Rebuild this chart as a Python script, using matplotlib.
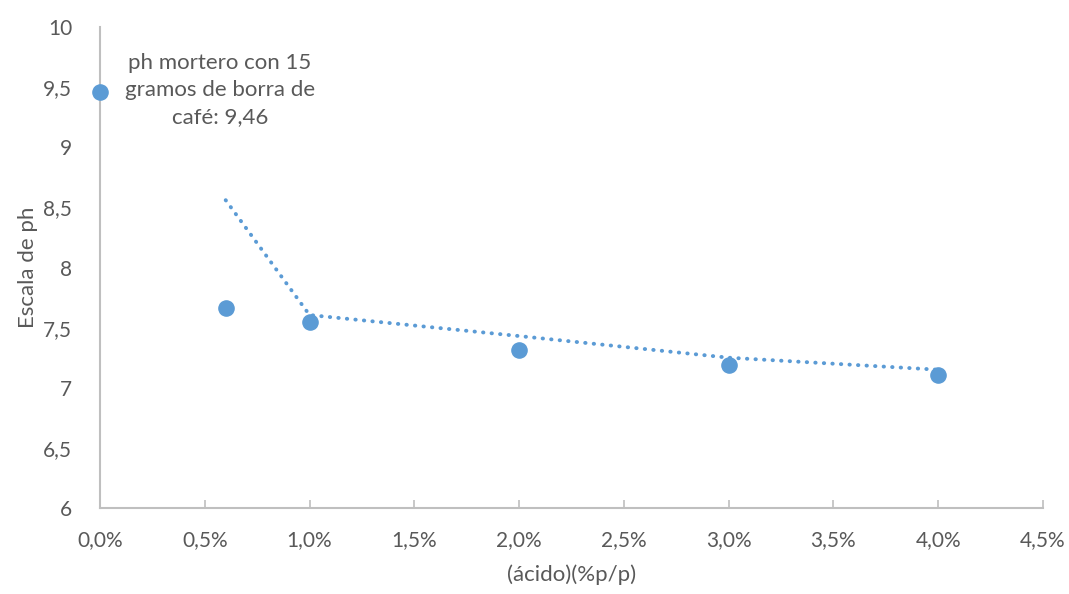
import numpy as np
import matplotlib.pyplot as plt
from matplotlib.ticker import FuncFormatter

# datos
acido = [0.0, 0.006, 0.010, 0.020, 0.030, 0.040]
ph = [9.46, 7.66, 7.55, 7.31, 7.19, 7.11]

# media movil de 2 periodos (linea de tendencia)
ph_mm = [(ph[i - 1] + ph[i]) / 2 for i in range(1, len(ph))]
acido_mm = acido[1:]

azul = '#5b9bd5'
gris = '#595959'
eje = '#bfbfbf'

plt.rcParams['font.family'] = ['Lato', 'DejaVu Sans']

fig = plt.figure(figsize=(10.69, 5.94), dpi=100)
ax = fig.add_axes([0.0935, 0.1448, 0.8822, 0.8097])

ax.plot(acido_mm, ph_mm, color=azul, lw=2.8, linestyle=(0, (0.1, 2.1)),
        dash_capstyle='round', zorder=2)
ax.scatter(acido, ph, s=120, color=azul, zorder=3, clip_on=False)

ax.annotate('ph mortero con 15\ngramos de borra de\ncafé: 9,46', xy=(acido[0], ph[0]),
            xytext=(220, 594 - 90), textcoords='figure pixels', ha='center', va='center',
            fontsize=16, color=gris, linespacing=1.45)

ax.set_xlim(0, 0.045)
ax.set_ylim(6, 10)
ax.set_xticks(np.arange(0, 0.0451, 0.005))
ax.set_yticks(np.arange(6, 10.01, 0.5))
ax.xaxis.set_major_formatter(FuncFormatter(lambda v, p: f'{v * 100:.1f}%'.replace('.', ',')))
ax.yaxis.set_major_formatter(FuncFormatter(lambda v, p: f'{v:g}'.replace('.', ',')))

for s in ['top', 'right']:
    ax.spines[s].set_visible(False)
for s in ['left', 'bottom']:
    ax.spines[s].set_color(eje)
    ax.spines[s].set_linewidth(1.5)

ax.tick_params(axis='x', direction='in', length=6, width=1.2, color=eje,
               labelsize=15, labelcolor=gris, pad=16)
ax.tick_params(axis='y', length=0, labelsize=15, labelcolor=gris, pad=20)

ax.set_xlabel('(ácido)(%p/p)', fontsize=16, color=gris, labelpad=10)
ax.set_ylabel('Escala de ph', fontsize=16, color=gris, labelpad=4)

plt.savefig('out.png', dpi=100)
